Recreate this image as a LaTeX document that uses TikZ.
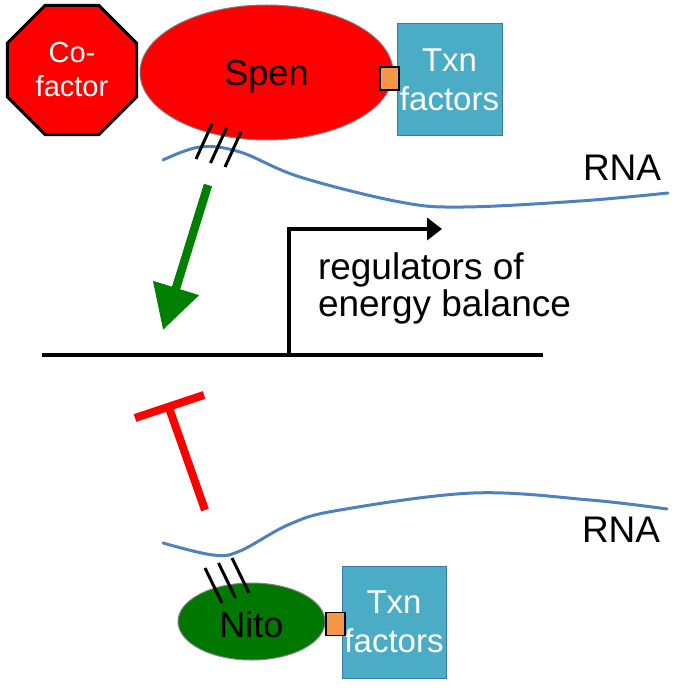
\documentclass[tikz,border=0pt]{standalone}
\usepackage{fontspec}
\setmainfont{Liberation Sans}
\usepackage{tikz}
\usetikzlibrary{shapes.geometric}
\usetikzlibrary{arrows.meta}

\begin{document}
\begin{tikzpicture}[x=1pt,y=-1pt,line cap=butt,
		cofac/.style={regular polygon, regular polygon sides=8, minimum size=140pt, inner sep=0pt, fill=custcol_ff_0_0, draw=custcol_0_0_0, line width=3.0pt, text=white, align=center, font=\fontsize{29pt}{34pt}\selectfont},
		prot/.style={ellipse, inner sep=0pt, draw=custcol_80_80_80, line width=1.0pt, text=custcol_0_0_0, text height=26pt, text depth=0pt, font=\fontsize{36pt}{36pt}\selectfont},
		txnbox/.style={rectangle, inner sep=0pt, minimum width=105pt, minimum height=111pt, fill=custcol_4b_ac_c6, draw=custcol_3a_86_9b, line width=1.0pt, text=white, align=center, font=\fontsize{33pt}{39pt}\selectfont},
		linker/.style={rectangle, inner sep=0pt, minimum width=19pt, minimum height=23pt, fill=custcol_f7_96_46, draw=custcol_0_0_0, line width=1.5pt},
		rna/.style={custcol_4f_81_bd, line width=3.0pt, line cap=round},
		hatch/.style={custcol_0_0_0, line width=3.0pt},
		bigtext/.style={inner sep=0pt, outer sep=0pt, font=\fontsize{37pt}{37pt}\selectfont}]
					\definecolor{custcol_ff_0_0}{RGB}{255, 0, 0}
					\definecolor{custcol_0_0_0}{RGB}{0, 0, 0}
					\definecolor{custcol_80_80_80}{RGB}{128, 128, 128}
					\definecolor{custcol_4b_ac_c6}{RGB}{75, 172, 198}
					\definecolor{custcol_3a_86_9b}{RGB}{58, 120, 170}
					\definecolor{custcol_f7_96_46}{RGB}{247, 150, 70}
					\definecolor{custcol_4f_81_bd}{RGB}{79, 129, 189}
					\definecolor{custcol_0_80_0}{RGB}{0, 128, 0}
					\definecolor{custcol_0_78_0}{RGB}{0, 120, 0}
					\useasboundingbox (0,0) rectangle (675,690);
					% Spen complex and its RNA
					\node[cofac] (cofactor) at (72,70) {Co-\\factor};
					\node[prot, fill=custcol_ff_0_0, minimum width=253pt, minimum height=135pt] (spen) at (266.5,72.5) {Spen};
					\node[txnbox] (txntop) at (449.5,79.5) {Txn\\factors};
					\node[linker] (linktop) at (389.5,78.5) {};
					\draw [rna] plot[smooth, tension=0.6] coordinates {(163,160) (200,147) (240,152) (300,177) (400,202) (463,207) (580,201) (668,193)};
					\foreach \i in {0,1,2}
						\draw [hatch] (212+14.5*\i,124+4*\i) -- ++(-16,35);
					\node[bigtext, anchor=base west] (rnatop) at (583,180) {RNA};
					% target gene
					\coordinate (genel) at (42,355);
					\coordinate (gener) at (543,355);
					\coordinate (tss) at (289,355);
					\coordinate (tssend) at (442,229);
					\draw [line width=4.0pt, custcol_0_0_0] (genel) -- (gener);
					\draw [line width=4.0pt, custcol_0_0_0, -{Triangle[length=15pt, width=22pt]}] (tss) |- (tssend);
					\node[bigtext, anchor=north west, align=left] (target) at (318,253) {regulators of\\energy balance};
					\coordinate (acttail) at (208,185);
					\coordinate (acttip) at (163,330);
					\draw [line width=8.5pt, custcol_0_80_0, -{Triangle[length=44pt, width=46pt]}] (acttail) -- (acttip);
					\coordinate (inhtail) at (205,510);
					\coordinate (inhtip) at (168,405);
					\draw [line width=8.0pt, custcol_ff_0_0] (inhtail) -- (inhtip);
					\draw [line width=8.0pt, custcol_ff_0_0] (135,418) -- (204,395);
					% Nito complex and its RNA
					\draw [rna] plot[smooth, tension=0.6] coordinates {(163,543) (213,555) (240,551) (290,524) (340,510) (473,493) (590,500) (667,509)};
					\node[bigtext, anchor=base west] (rnabot) at (582,542) {RNA};
					\node[prot, fill=custcol_0_78_0, minimum width=147pt, minimum height=77pt, text height=32pt] (nito) at (251.5,621.5) {Nito};
					\foreach \i in {0,1,2}
						\draw [hatch] (205+13.5*\i,568-5*\i) -- ++(17,35);
					\node[txnbox, minimum width=104pt, minimum height=112pt] (txnbot) at (394,622) {Txn\\factors};
					\node[linker] (linkbot) at (335.5,624) {};
				\end{tikzpicture}
\end{document}
